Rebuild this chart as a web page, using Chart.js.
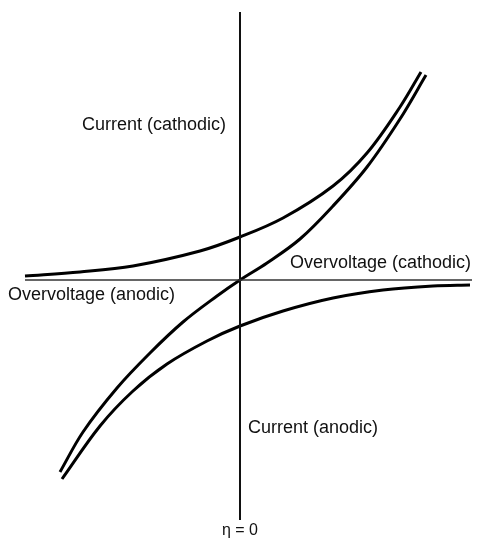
<!DOCTYPE html>
<html>
<head>
<meta charset="utf-8">
<title>Current - overvoltage curve</title>
<script src="https://cdn.jsdelivr.net/npm/chart.js@4/dist/chart.umd.min.js"></script>
<style>
  html, body { margin: 0; padding: 0; background: #fff; }
  #container { width: 477px; height: 542px; }
</style>
</head>
<body>
<div id="container"><canvas id="canvas" width="477" height="542"></canvas></div>
<script>
// overvoltage (arbitrary units), eta = 0 at the vertical axis
var cathodicEta = [-2.15, -1.60, -1.07, -0.40, 0, 0.43, 0.93, 1.27, 1.60, 1.81];
var cathodicI   = [0.04, 0.08, 0.14, 0.29, 0.43, 0.62, 0.94, 1.27, 1.73, 2.08];

var anodicEta = [-1.78, -1.40, -1.07, -0.73, -0.33, 0, 0.43, 0.93, 1.43, 1.93, 2.30];
var anodicI   = [-1.99, -1.46, -1.11, -0.84, -0.61, -0.46, -0.31, -0.18, -0.10, -0.06, -0.05];

var netEta = [-1.80, -1.57, -1.23, -0.90, -0.57, -0.23, 0, 0.27, 0.60, 0.93, 1.27, 1.60, 1.86];
var netI   = [-1.92, -1.52, -1.08, -0.73, -0.42, -0.16, 0, 0.17, 0.41, 0.74, 1.13, 1.61, 2.05];

// axis extents
var etaAxis = [-2.15, 2.32];
var currentAxis = [2.68, -2.40];

function pts(xs, ys) {
  var out = [];
  for (var i = 0; i < xs.length; i++) out.push({x: xs[i], y: ys[i]});
  return out;
}

function curve(label, xs, ys) {
  return {
    label: label,
    data: pts(xs, ys),
    borderColor: '#000',
    borderWidth: 3,
    pointRadius: 0,
    showLine: true,
    tension: 0.35
  };
}

// text labels drawn next to the axes
var labelPlugin = {
  id: 'axisText',
  afterDraw: function(chart) {
    var ctx = chart.ctx;
    var x0 = chart.scales.x.getPixelForValue(0);
    var y0 = chart.scales.y.getPixelForValue(0);
    ctx.save();
    ctx.fillStyle = '#111';
    ctx.textBaseline = 'middle';
    ctx.font = '18px "Liberation Sans", Arial, sans-serif';
    ctx.textAlign = 'left';
    ctx.fillText('Current (cathodic)', x0 - 158, y0 - 155);
    ctx.fillText('Overvoltage (cathodic)', x0 + 50, y0 - 17);
    ctx.fillText('Overvoltage (anodic)', 8, y0 + 15);
    ctx.fillText('Current (anodic)', x0 + 8, y0 + 148);
    ctx.textAlign = 'center';
    ctx.font = '16px "Liberation Sans", Arial, sans-serif';
    ctx.fillText('\u03b7 = 0', x0, chart.scales.y.getPixelForValue(currentAxis[1]) + 11);
    ctx.restore();
  }
};

var ctx = document.getElementById('canvas').getContext('2d');
window.myChart = new Chart(ctx, {
  type: 'scatter',
  data: {
    datasets: [
      {
        label: 'eta axis',
        data: pts(etaAxis, [0, 0]),
        borderColor: '#333',
        borderWidth: 1.5,
        pointRadius: 0,
        showLine: true
      },
      {
        label: 'current axis',
        data: pts([0, 0], currentAxis),
        borderColor: '#111',
        borderWidth: 2,
        pointRadius: 0,
        showLine: true
      },
      curve('cathodic', cathodicEta, cathodicI),
      curve('anodic', anodicEta, anodicI),
      curve('net', netEta, netI)
    ]
  },
  options: {
    responsive: false,
    animation: false,
    layout: { padding: 0 },
    plugins: {
      legend: { display: false },
      tooltip: { enabled: false }
    },
    scales: {
      x: { type: 'linear', display: false, min: -2.40, max: 2.37 },
      y: { type: 'linear', display: false, min: -2.62, max: 2.80 }
    }
  },
  plugins: [labelPlugin]
});
</script>
</body>
</html>
